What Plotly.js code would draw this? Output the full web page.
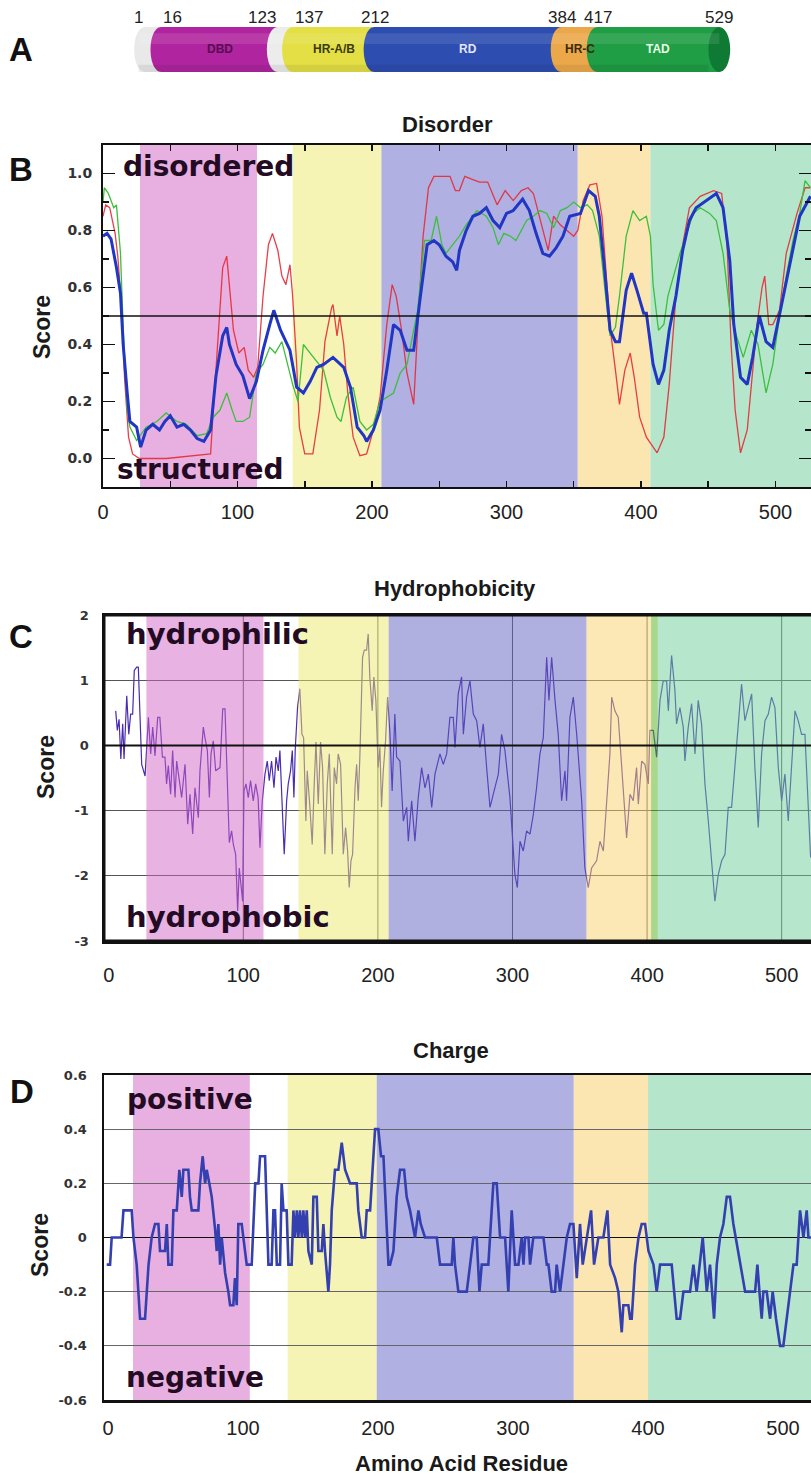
<!DOCTYPE html>
<html><head><meta charset="utf-8">
<script src="https://cdn.plot.ly/plotly-3.0.1.min.js"></script>
<style>html,body{margin:0;padding:0;background:#fff}#chart{width:811px;height:1479px}</style>
</head><body><div id="chart"></div>
<script>
// ---------- Panel A: domain map ----------
const domainNames = ['', 'DBD', '', 'HR-A/B', 'RD', 'HR-C', 'TAD'];
const domainStart = [1, 16, 123, 137, 212, 384, 417];
const domainEnd = [16, 123, 137, 212, 384, 417, 529];
const domainBoundaries = [1, 16, 123, 137, 212, 384, 417, 529];

// ---------- shaded regions per panel ----------
const disorderBandStart = [27.5, 141, 207, 353, 407];
const disorderBandEnd = [114.5, 207, 353, 407, 530];
const hydroBandStart = [28, 141, 208, 355, 403, 408];
const hydroBandEnd = [115, 208, 355, 403, 408, 530];
const chargeBandStart = [18.5, 133, 199, 345, 400];
const chargeBandEnd = [105, 199, 345, 400, 530];

// ---------- Panel B: disorder ----------
const disorderThreshold = 0.5;
const redX = [0,2,5,9,11,14,16,19,22,27,47,80,82,86,89,92,94,97,101,105,108,112,115,119,123,126,130,133,136,139,141,144,146,150,156,161,165,170,171,174,176,179,182,186,191,196,201,206,211,215,218,222,226,231,234,238,242,246,258,262,265,269,274,280,286,293,299,305,311,316,320,325,331,335,340,345,350,353,357,362,367,371,374,377,381,384,388,392,395,399,404,412,417,421,426,431,436,444,454,460,464,467,470,474,479,482,486,490,492,495,498,503,508,516,522,526];
const redY = [0.85,0.89,0.88,0.79,0.71,0.52,0.285,0.075,0.016,0.0,0.0,0.016,0.17,0.46,0.67,0.71,0.61,0.45,0.37,0.39,0.31,0.285,0.32,0.57,0.75,0.79,0.73,0.64,0.61,0.68,0.57,0.33,0.11,0.016,0.016,0.17,0.41,0.53,0.54,0.43,0.50,0.40,0.23,0.075,0.01,0.016,0.10,0.215,0.47,0.61,0.57,0.45,0.30,0.19,0.46,0.78,0.95,0.99,0.99,0.94,0.94,0.99,0.98,0.97,0.97,0.89,0.94,0.905,0.94,0.95,0.93,0.835,0.73,0.85,0.82,0.80,0.78,0.80,0.905,0.96,0.965,0.85,0.64,0.46,0.31,0.19,0.31,0.37,0.285,0.145,0.075,0.02,0.075,0.26,0.57,0.75,0.88,0.92,0.94,0.93,0.75,0.40,0.17,0.02,0.10,0.26,0.46,0.60,0.64,0.47,0.47,0.52,0.72,0.86,0.95,0.95];
const greenX = [0,1,4,8,10,13,15,18,20,25,32,40,47,55,62,70,77,82,87,92,96,99,104,109,114,119,124,128,133,136,141,145,149,154,159,164,169,174,177,181,186,191,196,201,206,211,216,221,226,231,234,239,244,248,252,255,260,265,270,278,285,290,294,298,303,307,315,320,325,330,335,340,345,350,355,360,364,369,373,377,381,384,389,394,399,404,407,409,413,417,420,424,429,434,439,444,451,456,461,466,471,476,482,487,493,498,503,508,513,518,522,526];
const greenY = [0.90,0.95,0.93,0.88,0.89,0.72,0.46,0.17,0.11,0.063,0.11,0.13,0.16,0.13,0.12,0.08,0.087,0.145,0.17,0.23,0.17,0.13,0.13,0.145,0.30,0.33,0.39,0.37,0.41,0.355,0.26,0.20,0.40,0.37,0.34,0.31,0.215,0.145,0.13,0.215,0.25,0.13,0.10,0.12,0.20,0.215,0.23,0.30,0.33,0.45,0.52,0.765,0.765,0.85,0.75,0.72,0.75,0.78,0.82,0.87,0.85,0.81,0.75,0.79,0.78,0.765,0.835,0.85,0.87,0.86,0.81,0.87,0.88,0.90,0.88,0.89,0.87,0.78,0.60,0.43,0.46,0.57,0.78,0.87,0.835,0.85,0.78,0.61,0.45,0.47,0.57,0.64,0.72,0.79,0.86,0.88,0.86,0.835,0.72,0.52,0.43,0.355,0.45,0.40,0.23,0.33,0.50,0.64,0.765,0.86,0.975,0.95];
const blueX = [0,3,6,10,13,15,18,20,25,28,32,37,42,46,50,55,60,65,70,75,80,84,89,92,94,99,104,109,114,119,124,127,132,139,144,149,154,159,164,171,179,184,189,194,196,201,206,211,216,221,226,231,236,241,246,250,255,260,263,265,270,275,280,285,290,295,300,305,312,317,322,327,332,337,342,347,355,361,366,369,373,377,381,384,389,393,397,402,404,409,413,417,421,426,431,436,441,449,456,461,466,469,474,479,483,488,493,498,502,506,513,518,526];
const blueY = [0.78,0.79,0.77,0.67,0.58,0.40,0.23,0.13,0.11,0.04,0.10,0.12,0.10,0.13,0.15,0.11,0.12,0.10,0.07,0.06,0.10,0.29,0.43,0.46,0.40,0.33,0.29,0.21,0.27,0.38,0.47,0.52,0.45,0.38,0.25,0.23,0.27,0.32,0.33,0.355,0.32,0.25,0.11,0.08,0.06,0.10,0.17,0.31,0.47,0.45,0.38,0.38,0.57,0.75,0.765,0.75,0.71,0.69,0.66,0.73,0.80,0.85,0.86,0.88,0.835,0.81,0.86,0.87,0.91,0.87,0.79,0.72,0.71,0.74,0.78,0.85,0.86,0.94,0.92,0.85,0.66,0.45,0.41,0.41,0.59,0.65,0.59,0.51,0.51,0.33,0.26,0.31,0.45,0.57,0.73,0.835,0.88,0.905,0.93,0.88,0.695,0.47,0.285,0.26,0.355,0.50,0.41,0.39,0.48,0.58,0.73,0.85,0.92];
const disorderTickVals = [0, 0.2, 0.4, 0.6, 0.8, 1.0];

// ---------- Panel C: hydrophobicity ----------
const hydroX = [5.2,6.4,7.7,9,10.4,11.4,13.4,14.9,16.3,17.8,19,20.8,22,24.5,27,29.5,31.2,32.7,34.4,36.4,38,39.9,41.8,43,44.3,46,47.5,49.3,50.5,52.5,54.2,56.7,58.7,60.4,62.4,64.1,65.3,66.6,67.8,70.3,71.5,73.3,74.8,76,77.7,79.5,82.7,84.7,86.4,88.4,89.6,91.3,92.6,94.3,95.8,97,98.3,99.5,100.5,102,103.7,105.4,107.4,109.2,111,112.4,114.1,116.1,117.8,119.3,121,122.8,124.3,126,127.2,128.5,130.4,132.2,133.4,135.1,136.4,137.6,138.6,140.3,142,143.6,144.8,146.5,147.5,149.5,151.2,152.7,154,155.7,157.4,158.9,160.6,162.4,163.9,166.1,167.6,169.3,170.5,172.3,174.3,176,177.5,178.7,180,181.2,183,184.2,185.4,186.6,188.6,189.9,191.6,192.8,194,195.8,197,198.5,200.2,201.5,202.7,204,205.7,207.2,209,210.6,212.6,213.9,216.4,218.9,221.4,222.6,225.1,227.5,230,232.5,235,237.5,240,242.4,246.1,248.6,251.1,253.5,256,257.3,259.7,262.2,263.5,265.9,268.4,270.9,273.4,275.8,278.3,280.8,283.3,285.7,289.5,291.9,294.4,298.1,300.6,301.8,303.6,305.6,308,310.5,313,315.5,317.9,320.4,322.9,325.4,327.1,329.1,331.6,334,336.5,339,340.2,342.7,345.2,347.7,351.4,353.8,356.3,358.8,362.5,365,367.5,370,372.4,373.7,376.1,378.6,381.1,382.3,384.8,387.3,389.7,392.2,393.5,396,398.4,400.9,402.1,404.6,407.1,409.6,412,414.5,415.8,418.2,420.7,421.9,424.4,426.9,428.1,430.6,433.1,435.6,438,440.5,443,445.5,448,450.4,452.9,455.4,457.9,460.3,462.8,465.3,467.8,470.2,472.7,475.2,477.7,480.1,482.6,485.1,487.6,490.1,492.5,495,497.5,500,502.4,504.9,507.4,509.9,512.3,514.8,517.3,519.8,521.5];
const hydroY = [0.53,0.23,0.40,-0.21,0.33,-0.21,0.76,0.17,0.48,0.48,1.15,1.2,1.2,-0.29,-0.47,0.43,-0.13,0.28,-0.16,0.43,0.43,-0.18,-0.18,-0.59,-0.31,-0.75,-0.08,-0.80,-0.24,-0.54,-0.80,-0.29,-1.21,-0.75,-1.36,-0.65,-0.85,-1.11,-0.39,0.28,0.12,-0.08,-0.80,-0.13,0.07,-0.39,-0.34,0.56,0.56,-0.54,-1.49,-1.31,-1.52,-1.67,-2.54,-1.88,-2.18,-2.39,-0.70,-0.59,-0.80,-0.54,-0.85,-0.59,-0.80,-1.57,-0.85,-0.44,-0.24,-0.54,-0.24,-0.65,-0.18,-0.39,-0.08,-0.85,-1.67,-0.85,-0.59,-0.39,-0.08,-0.80,-0.06,0.58,0.87,0.17,0.12,-1.16,-0.39,-0.95,-1.52,-0.59,0.05,-0.90,0.05,-0.34,-1.67,-0.59,-0.13,-1.67,-0.34,-0.59,-0.13,-0.29,-1.67,-1.26,-1.62,-2.18,-1.77,-1.67,-0.65,-0.29,-0.85,-0.18,1.35,1.46,1.46,1.71,1.05,0.53,1.05,0.69,-0.34,-0.03,-0.95,-0.39,0.07,0.74,0.17,-0.70,0.48,-0.18,-0.24,-1.16,-0.95,-1.47,-0.85,-1.47,-0.80,-0.34,-0.65,-0.44,-0.95,-0.44,-0.13,-0.29,-0.13,0.43,0.43,-0.03,0.79,1.05,0.17,0.74,0.99,0.48,0.38,-0.03,0.33,-0.34,-0.95,-0.75,-0.44,0.17,-0.08,-0.80,-1.62,-1.98,-2.18,-1.47,-1.62,-1.31,-1.36,-1.06,-0.65,-0.13,0.12,1.35,0.69,1.35,0.69,0.17,-0.85,-0.39,-0.85,0.43,0.74,0.17,-0.85,-1.88,-2.18,-1.88,-1.77,-1.47,-1.62,-0.85,-0.13,0.74,0.53,0.43,-0.34,-0.80,-1.42,-0.75,-0.85,-0.34,-0.90,-0.24,-0.29,-0.59,0.23,0.23,-0.18,0.69,0.99,0.99,0.53,1.38,0.84,0.33,0.58,0.28,-0.24,0.28,0.64,-0.13,0.69,0.33,-0.59,-1.16,-1.77,-2.39,-1.98,-1.77,-1.67,-0.95,-0.95,-0.34,0.33,0.94,0.38,0.58,0.79,-0.34,-1.26,-0.13,0.38,0.48,0.74,0.58,-0.34,-0.85,-0.44,-1.16,-0.34,0.53,0.38,0.17,0.17,-0.95,-1.72];
const hydroTickVals = [-3, -2, -1, 0, 1, 2];
const hydroTickText = ['-3', '-2', '-1', '0', '1', '2'];

// ---------- Panel D: charge ----------
const chargeX = [-1,1.5,2.7,10,11.4,17.5,18.8,21.2,23.7,27.4,30,32.3,34.8,37.3,38.5,42.2,43.5,44.7,47.2,48.4,50.9,52.8,54.6,55.8,59.5,60.7,62,66.9,68.1,70.1,71.9,73.1,75,76.8,79.3,80.5,81.7,83,84.2,86.7,89.1,90.4,92.8,94,95.3,96.5,99,102.7,106.4,109,111.4,112.6,116.3,117.5,118.8,121.2,122.5,123.7,125,127.4,128.6,129.9,132.3,133.6,136,137.3,138.5,139.8,141,142.2,143.5,144.7,145.9,147.2,148.4,150.9,152.1,154.6,155.8,158.3,159.5,160.7,163.2,164.4,165.7,168.1,170.6,173.1,175.6,179.3,184.2,185.4,187.9,190.4,191.6,194.1,195.3,197.8,200.2,202.2,204,206,207.7,208.9,211.4,213.8,216.3,219.3,221.2,223.7,227.4,229.9,231.6,234.8,243.5,245.9,254.6,255.8,257,259.5,265.7,268.2,270.6,273.1,275.1,276.8,281.7,285.4,287.9,290.4,294.1,296.5,299,301.5,304,306.4,307.7,308.9,311.4,312.6,315,322.5,325,326.2,328.6,331.1,332.3,334.8,337.3,339.8,342.2,344.7,347.2,349.6,351.6,354.6,357.8,360,363.2,366.9,369.9,371.9,375.6,378,380.5,381.7,385.4,386.7,387.9,390.4,392.9,395.3,397.8,400.3,404,406.4,408.9,417.5,421.2,423.7,426.2,431.1,433.6,436,438.5,440.5,443.5,445.9,448.9,450.9,453.3,455.8,458.3,460.7,463.2,468.2,471.9,479.3,481,482.5,484.2,485.4,487.9,490.4,492.3,494.8,497.8,500.2,502.7,505.2,507.7,510.1,512.6,515.1,517.5,518.8,520.7];
const chargeY = [-0.1,-0.1,0,0,0.1,0.1,0,-0.1,-0.3,-0.3,-0.1,0,0.05,0.05,-0.05,-0.05,0.05,-0.1,-0.1,0.1,0.1,0.25,0.15,0.25,0.25,0.15,0.1,0.1,0.2,0.3,0.2,0.25,0.2,0.15,0.03,-0.05,0.05,-0.1,0,-0.13,-0.2,-0.25,-0.25,-0.15,-0.25,0.05,0.05,-0.1,-0.1,0.2,0.2,0.3,0.3,0.1,-0.1,-0.1,0.1,0.1,-0.1,-0.1,0.2,0.1,0.1,-0.1,-0.1,0.1,0,0.1,0,0.1,0,0.1,0,0.1,-0.05,-0.1,0.15,0.15,-0.05,-0.05,0.05,-0.05,-0.2,-0.1,0.1,0.25,0.25,0.35,0.25,0.2,0.2,0.1,0,0,0.1,0.1,0.2,0.4,0.4,0.3,0.3,0.1,-0.1,-0.1,-0.05,0.15,0.25,0.25,0.15,0.1,0,0.1,0.05,0,0,-0.1,-0.1,0,-0.1,-0.2,-0.2,-0.1,0,0,-0.2,-0.1,-0.1,0.2,0.2,0,0,-0.2,0.1,-0.1,-0.1,0,-0.1,0,0,-0.1,0,0,-0.1,-0.1,-0.2,-0.2,-0.1,-0.2,-0.1,0,0.05,0.05,-0.15,0.05,-0.1,0,0.1,-0.1,0,0,0.1,-0.1,-0.15,-0.2,-0.35,-0.25,-0.25,-0.3,-0.3,-0.1,0,0.05,0.05,-0.05,-0.1,-0.2,-0.1,-0.1,-0.3,-0.3,-0.2,-0.2,-0.1,-0.2,-0.1,0,-0.2,-0.1,-0.3,-0.1,0,0.05,0.15,0.15,0.05,-0.1,-0.2,-0.2,-0.1,-0.2,-0.3,-0.2,-0.2,-0.3,-0.2,-0.3,-0.4,-0.4,-0.3,-0.2,-0.1,-0.1,0.1,0,0.1,0,0];
const chargeTickVals = [-0.6, -0.4, -0.2, 0, 0.2, 0.4, 0.6];
const chargeTickText = ['-0.6', '-0.4', '-0.2', '0', '0.2', '0.4', '0.6'];

const residueTicks = [0, 100, 200, 300, 400, 500];

// ---------- styling ----------
const W = 811, H = 1479;
const px = v => v / W;
const py = v => 1 - v / H;
const bandColorsB = ['#e8b0e0', '#f6f4b4', '#b0b0e2', '#fbe6b2', '#b5e6cc'];
const bandColorsD = ['#e8b0e0', '#f6f4b4', '#b0b0e2', '#fbe6b2', '#b5e6cc'];
const overlayC = ['#d165c5', '#ede969', '#6161c1', '#f9d169', '#51b119', '#6dcd99'];
const segColors = ['#e9e9e9', '#b0259f', '#ececec', '#e3df44', '#2d4db0', '#eba84a', '#1f9e45'];
const segText = ['#333', '#5a0c52', '#333', '#3a3a14', '#e2e6ff', '#3a2a10', '#e8ffe8'];
const capR = 10;
const k = capR * 4 / 3;

const shapes = [];
// Panel A segments
domainStart.forEach((s, i) => {
  const e = domainEnd[i];
  shapes.push({type: 'path', xref: 'x4', yref: 'y4',
    path: `M ${e},0 L ${s},0 C ${s - k},0 ${s - k},1 ${s},1 L ${e},1 Z`,
    fillcolor: segColors[i], line: {width: 0}, layer: 'above'});
});
const lastEnd = domainEnd[domainEnd.length - 1];
shapes.push({type: 'circle', xref: 'x4', yref: 'y4', x0: lastEnd - capR, x1: lastEnd + capR, y0: 0, y1: 1,
  fillcolor: '#0e7a33', line: {width: 0}, layer: 'above'});
shapes.push({type: 'rect', xref: 'x4', yref: 'y4', x0: domainStart[0] - 6, x1: lastEnd, y0: 0.62, y1: 0.86,
  fillcolor: '#ffffff', opacity: 0.10, line: {width: 0}, layer: 'above'});
shapes.push({type: 'rect', xref: 'x4', yref: 'y4', x0: domainStart[0] - 6, x1: lastEnd - capR, y0: 0, y1: 0.16,
  fillcolor: '#000000', opacity: 0.07, line: {width: 0}, layer: 'above'});

// Panel B bands
disorderBandStart.forEach((s, i) => shapes.push({type: 'rect', xref: 'x', yref: 'y domain',
  x0: s, x1: disorderBandEnd[i], y0: 0, y1: 1, fillcolor: bandColorsB[i], line: {width: 0}, layer: 'below'}));
shapes.push({type: 'line', xref: 'x domain', yref: 'y', x0: 0, x1: 1, y0: disorderThreshold, y1: disorderThreshold,
  line: {color: '#111', width: 1.5}, layer: 'above'});

// Panel C vertical grid, overlays, zero line, frame (left/top/bottom)
residueTicks.slice(1).forEach(v => shapes.push({type: 'line', xref: 'x2', yref: 'y2 domain', x0: v, x1: v, y0: 0, y1: 1,
  line: {color: '#555', width: 1}, layer: 'below'}));
hydroBandStart.forEach((s, i) => shapes.push({type: 'rect', xref: 'x2', yref: 'y2 domain',
  x0: s, x1: hydroBandEnd[i], y0: 0, y1: 1, fillcolor: overlayC[i], opacity: 0.5, line: {width: 0}, layer: 'above'}));
shapes.push({type: 'line', xref: 'x2 domain', yref: 'y2', x0: 0, x1: 1, y0: 0, y1: 0, line: {color: '#111', width: 2}, layer: 'above'});
shapes.push({type: 'path', xref: 'x2 domain', yref: 'y2 domain', path: 'M 1.01,1 L 0,1 L 0,0 L 1.01,0',
  line: {color: '#111', width: 3}, fillcolor: 'rgba(0,0,0,0)', layer: 'above'});

// Panel D bands
chargeBandStart.forEach((s, i) => shapes.push({type: 'rect', xref: 'x3', yref: 'y3 domain',
  x0: s, x1: chargeBandEnd[i], y0: 0, y1: 1, fillcolor: bandColorsD[i], line: {width: 0}, layer: 'below'}));

// ---------- annotations ----------
const ann = [];
const boldTitle = {family: 'Liberation Sans, Arial, sans-serif', size: 22, color: '#1a1a1a', weight: 'bold'};
const letterFont = {family: 'Liberation Sans, Arial, sans-serif', size: 33, color: '#111', weight: 'bold'};
const inFont = s => ({family: 'DejaVu Sans, Verdana, sans-serif', size: s, color: '#230b23', weight: 'bold'});
function addText(text, x, y, font, opts) {
  ann.push(Object.assign({text, x: px(x), y: py(y), xref: 'paper', yref: 'paper', showarrow: false,
    xanchor: 'center', yanchor: 'middle', font}, opts || {}));
}
addText('A', 21, 50, letterFont);
addText('B', 21, 170, letterFont);
addText('C', 21, 636, letterFont);
addText('D', 22, 1091, letterFont);
addText('Disorder', 447, 124, boldTitle);
addText('Hydrophobicity', 455, 588, boldTitle);
addText('Charge', 451, 1050, boldTitle);
addText('Amino Acid Residue', 461, 1463, boldTitle);
addText('Score', 42, 327, Object.assign({}, boldTitle, {size: 23}), {textangle: -90});
addText('Score', 46, 767, Object.assign({}, boldTitle, {size: 23}), {textangle: -90});
addText('Score', 40, 1245, Object.assign({}, boldTitle, {size: 23}), {textangle: -90});
addText('disordered', 121, 166, inFont(28), {xanchor: 'left'});
addText('structured', 115, 469, inFont(28), {xanchor: 'left'});
addText('hydrophilic', 124, 634, inFont(29), {xanchor: 'left'});
addText('hydrophobic', 124, 917, inFont(29), {xanchor: 'left'});
addText('positive', 125, 1099, inFont(28), {xanchor: 'left'});
addText('negative', 124, 1377, inFont(28), {xanchor: 'left'});
// domain labels
domainNames.forEach((n, i) => {
  if (!n) return;
  ann.push({text: n, x: (domainStart[i] + domainEnd[i]) / 2, y: 0.5, xref: 'x4', yref: 'y4', showarrow: false,
    font: {family: 'Liberation Sans, Arial, sans-serif', size: 12, color: segText[i], weight: 'bold'}});
});
// boundary numbers: close neighbours are pushed apart by anchoring
domainBoundaries.forEach((b, i) => {
  const prev = domainBoundaries[i - 1], next = domainBoundaries[i + 1];
  let anchor = 'center';
  if (next !== undefined && next - b < 20) anchor = 'right';
  else if (prev !== undefined && b - prev < 20) anchor = 'left';
  ann.push({text: String(b), x: b, y: py(18), xref: 'x4', yref: 'paper', showarrow: false,
    xanchor: anchor, yanchor: 'middle', font: {family: 'Liberation Sans, Arial, sans-serif', size: 17, color: '#222'}});
});

// ---------- traces ----------
const traces = [
  {type: 'scatter', mode: 'lines', x: redX, y: redY, xaxis: 'x', yaxis: 'y', line: {color: '#e62a36', width: 1.3}, opacity: 0.9, hoverinfo: 'skip'},
  {type: 'scatter', mode: 'lines', x: greenX, y: greenY, xaxis: 'x', yaxis: 'y', line: {color: '#3cbf3c', width: 1.3}, hoverinfo: 'skip'},
  {type: 'scatter', mode: 'lines', x: blueX, y: blueY, xaxis: 'x', yaxis: 'y', line: {color: '#2236c4', width: 3}, hoverinfo: 'skip'},
  {type: 'scatter', mode: 'lines', x: hydroX, y: hydroY, xaxis: 'x2', yaxis: 'y2', line: {color: '#4b2bb0', width: 1.2}, hoverinfo: 'skip'},
  {type: 'scatter', mode: 'lines', x: chargeX, y: chargeY, xaxis: 'x3', yaxis: 'y3', line: {color: '#3440b0', width: 2.6}, hoverinfo: 'skip'},
  {type: 'scatter', mode: 'markers', x: [], y: [], xaxis: 'x4', yaxis: 'y4', hoverinfo: 'skip'}
];

const xTickFont = {family: 'Liberation Sans, Arial, sans-serif', size: 20, color: '#222'};
const layout = {
  width: W, height: H, margin: {l: 0, r: 0, t: 0, b: 0},
  paper_bgcolor: '#ffffff', plot_bgcolor: 'rgba(0,0,0,0)', showlegend: false,
  font: {family: 'Liberation Sans, Arial, sans-serif', color: '#222'},
  xaxis: {domain: [px(103), 1], range: [0, 526.4], anchor: 'y', showline: true, linecolor: '#111', linewidth: 2,
    mirror: 'ticks', ticks: 'inside', ticklen: 6, tickwidth: 1.5, tickcolor: '#111', tickvals: residueTicks,
    minor: {dtick: 50, tick0: 0, ticks: 'inside', ticklen: 6, tickwidth: 1.5, tickcolor: '#111'},
    showgrid: false, zeroline: false, tickfont: xTickFont, ticklabelstandoff: 6, fixedrange: true},
  yaxis: {domain: [py(487), py(145)], range: [-0.1, 1.1], anchor: 'x', showline: true, linecolor: '#111', linewidth: 2,
    mirror: 'ticks', ticks: 'inside', ticklen: 12, tickwidth: 1.5, tickcolor: '#111', tickvals: disorderTickVals, tickformat: '.1f',
    minor: {dtick: 0.1, tick0: 0, ticks: 'inside', ticklen: 6, tickwidth: 1.5, tickcolor: '#111'},
    showgrid: false, zeroline: false, ticklabelstandoff: 6,
    tickfont: {family: 'DejaVu Sans, Verdana, sans-serif', size: 14, color: '#333', weight: 'bold'}, fixedrange: true},
  xaxis2: {domain: [px(104), 1], range: [-3.5, 521.8], anchor: 'y2', showline: true, linecolor: '#111', linewidth: 2.5,
    mirror: true, ticks: '', tickvals: residueTicks, showgrid: false, zeroline: false, tickfont: xTickFont, ticklabelstandoff: 14, fixedrange: true},
  yaxis2: {domain: [py(941), py(615)], range: [-3, 2], anchor: 'x2', showline: true, linecolor: '#111', linewidth: 2.5,
    mirror: false, ticks: '', tickvals: hydroTickVals, ticktext: hydroTickText, showgrid: true, gridcolor: '#555', gridwidth: 1,
    zeroline: false, ticklabelstandoff: 10,
    tickfont: {family: 'DejaVu Sans, Verdana, sans-serif', size: 13, color: '#333', weight: 'bold'}, fixedrange: true},
  xaxis3: {domain: [px(104), 1], range: [-3, 520.7], anchor: 'y3', showline: true, linecolor: '#111', linewidth: 2.5,
    mirror: true, ticks: '', tickvals: residueTicks, showgrid: false, zeroline: false, tickfont: xTickFont, ticklabelstandoff: 8, fixedrange: true},
  yaxis3: {domain: [py(1400), py(1075)], range: [-0.6, 0.6], anchor: 'x3', showline: true, linecolor: '#111', linewidth: 2.5,
    mirror: false, ticks: '', tickvals: chargeTickVals, ticktext: chargeTickText, showgrid: true, gridcolor: '#666', gridwidth: 1,
    zeroline: true, zerolinecolor: '#111', zerolinewidth: 1.5, ticklabelstandoff: 12,
    tickfont: {family: 'DejaVu Sans, Verdana, sans-serif', size: 13, color: '#333', weight: 'bold'}, fixedrange: true},
  xaxis4: {domain: [0, 1], range: [-132.4, 613.3], anchor: 'y4', visible: false, fixedrange: true},
  yaxis4: {domain: [py(72), py(27)], range: [0, 1], anchor: 'x4', visible: false, fixedrange: true},
  shapes: shapes,
  annotations: ann
};

Plotly.newPlot('chart', traces, layout, {staticPlot: true, displayModeBar: false});
</script>
</body></html>
